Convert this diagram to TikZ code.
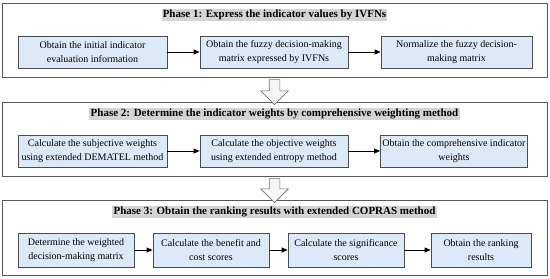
\documentclass[tikz,border=0pt]{standalone}
\usepackage{fontspec}
\setmainfont{Liberation Serif}
\usetikzlibrary{shapes.arrows, arrows.meta, positioning}
\definecolor{stepblue}{RGB}{220,233,248}
\tikzset{
  >={Triangle[length=6pt,width=5pt]},
  link/.style={line width=0.8pt},
  phasebox/.style={draw=black!65, line width=1pt, fill=white, inner sep=0pt,
    minimum width=545pt},
  phasetitle/.style={fill=black!17, inner sep=1.2pt,
    font=\fontsize{11}{13}\selectfont\bfseries},
  stepbox/.style={draw=black!70, line width=0.8pt, fill=stepblue, align=center,
    minimum height=32pt, inner sep=2pt, font=\fontsize{10}{14}\selectfont},
  phasearrow/.style={% big hollow arrow between phases, pointing down
    single arrow, draw=black!55, fill=black!4, line width=0.6pt, rotate=-90,
    inner xsep=0pt, inner ysep=5pt, single arrow head extend=8.5pt},
}

\begin{document}
\begin{tikzpicture}[x=1pt, y=-1pt]
  \useasboundingbox (0,0) rectangle (550,279);

  % ----- phase frames -------------------------------------------------------
  \node[phasebox, minimum height=74pt] (ph1) at (274.5,40)    {};
  \node[phasebox, minimum height=74pt] (ph2) at (274.5,139)   {};
  \node[phasebox, minimum height=75pt] (ph3) at (274.5,237.5) {};

  % ----- arrows between phases ----------------------------------------------
  \node[phasearrow, minimum height=25pt] (a12) at (274.5,89.5) {};
  \node[phasearrow, minimum height=24pt] (a23) at (274.5,188)  {};

  % ----- phase titles -------------------------------------------------------
  \node[phasetitle] (t1) at (274.5,15)  {Phase 1: Express the indicator values by IVFNs};
  \node[phasetitle] (t2) at (274.5,114) {Phase 2: Determine the indicator weights by comprehensive weighting method};
  \node[phasetitle] (t3) at (274.5,212) {Phase 3: Obtain the ranking results with extended COPRAS method};

  % ----- phase 1 steps ------------------------------------------------------
  \node[stepbox, minimum width=149pt] (s11) at (92.5,52)  {Obtain the initial indicator\\evaluation information};
  \node[stepbox, minimum width=148pt] (s12) at (274,52)   {Obtain the fuzzy decision-making\\matrix expressed by IVFNs};
  \node[stepbox, minimum width=151pt] (s13) at (456.5,52) {Normalize the fuzzy decision-\\making matrix};

  % ----- phase 2 steps ------------------------------------------------------
  \node[stepbox, minimum width=149pt] (s21) at (92.5,151) {Calculate the subjective weights\\using extended DEMATEL method};
  \node[stepbox, minimum width=148pt] (s22) at (274,151)  {Calculate the objective weights\\using extended entropy method};
  \node[stepbox, minimum width=146pt] (s23) at (454,151)  {Obtain the comprehensive indicator\\weights};

  % ----- phase 3 steps ------------------------------------------------------
  \node[stepbox, minimum width=116pt, minimum height=34pt] (s31) at (76,250)  {Determine the weighted\\decision-making matrix};
  \node[stepbox, minimum width=116pt, minimum height=34pt] (s32) at (211,250) {Calculate the benefit and\\cost scores};
  \node[stepbox, minimum width=116pt, minimum height=34pt] (s33) at (346,250) {Calculate the significance\\scores};
  \node[stepbox, minimum width=100pt, minimum height=34pt] (s34) at (481,250) {Obtain the ranking\\results};

  % ----- links inside phases ------------------------------------------------
  \draw[link,->] (s11) -- (s12);
  \draw[link,->] (s12) -- (s13);
  \draw[link,->] (s21) -- (s22);
  \draw[link,->] (s22) -- (s23);
  \draw[link,->] (s31) -- (s32);
  \draw[link,->] (s32) -- (s33);
  \draw[link,->] (s33) -- (s34);

\end{tikzpicture}
\end{document}
